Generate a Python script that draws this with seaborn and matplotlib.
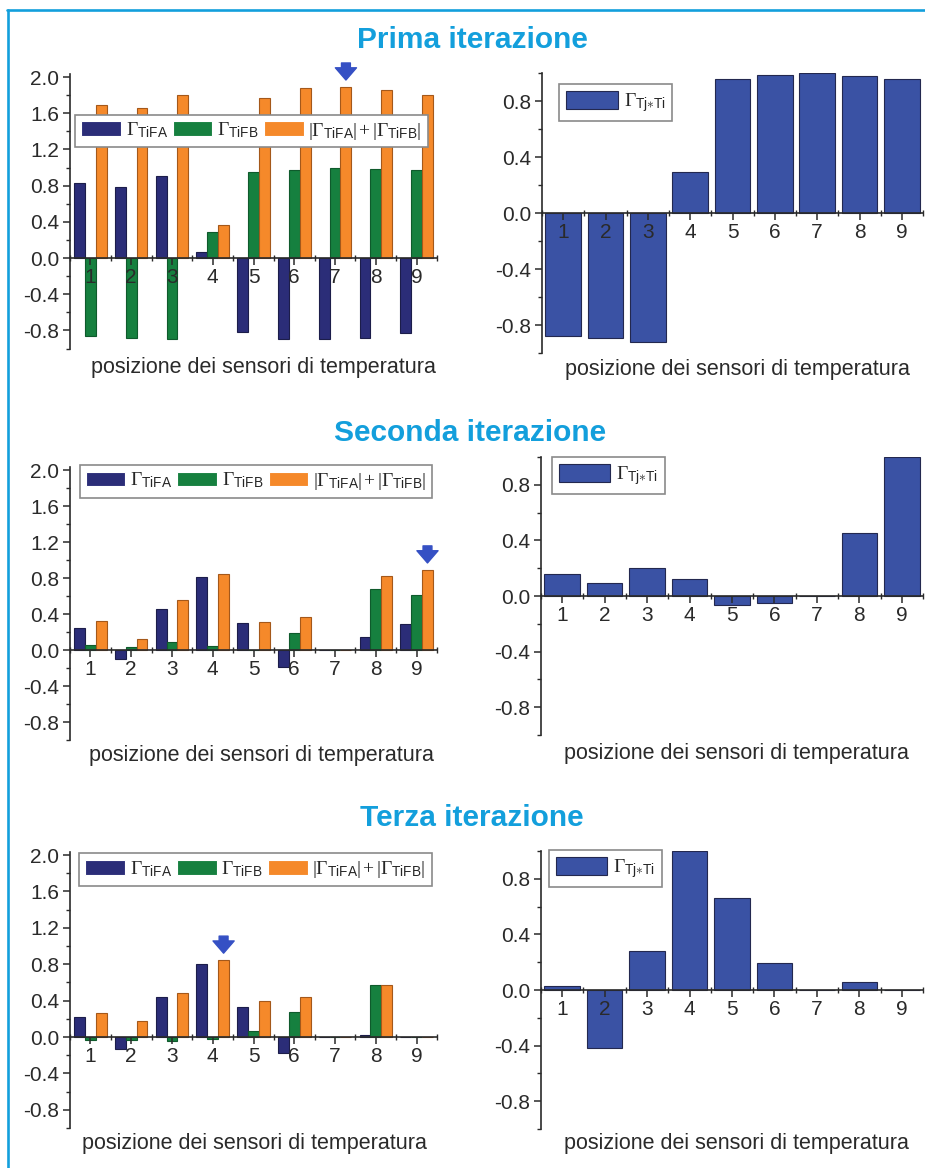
import numpy as np
import pandas as pd
import matplotlib
matplotlib.use("Agg")
import matplotlib.pyplot as plt
from matplotlib.lines import Line2D
from matplotlib.ticker import MultipleLocator, FormatStrFormatter
import seaborn as sns

# ---------------------------------------------------------------- data
sensori = ["1", "2", "3", "4", "5", "6", "7", "8", "9"]

# Prima iterazione
it1_fa = [0.83, 0.78, 0.91, 0.07, -0.82, -0.90, -0.90, -0.88, -0.83]
it1_fb = [-0.86, -0.88, -0.90, 0.29, 0.95, 0.97, 0.99, 0.98, 0.97]
it1_sum = [1.69, 1.66, 1.80, 0.36, 1.77, 1.88, 1.89, 1.86, 1.80]
it1_tt = [-0.88, -0.895, -0.92, 0.29, 0.96, 0.985, 1.00, 0.98, 0.96]

# Seconda iterazione
it2_fa = [0.25, -0.10, 0.46, 0.81, 0.30, -0.185, 0.0, 0.14, 0.29]
it2_fb = [0.06, 0.03, 0.085, 0.05, 0.005, 0.185, 0.0, 0.68, 0.61]
it2_sum = [0.32, 0.12, 0.555, 0.85, 0.31, 0.37, 0.0, 0.82, 0.89]
it2_tt = [0.155, 0.095, 0.205, 0.12, -0.062, -0.048, 0.0, 0.455, 1.00]

# Terza iterazione
it3_fa = [0.225, -0.13, 0.44, 0.805, 0.335, -0.175, 0.0, 0.02, 0.0]
it3_fb = [-0.035, -0.035, -0.04, -0.02, 0.07, 0.28, 0.0, 0.575, 0.0]
it3_sum = [0.26, 0.18, 0.485, 0.845, 0.395, 0.445, 0.0, 0.575, 0.0]
it3_tt = [0.03, -0.42, 0.28, 1.00, 0.66, 0.195, 0.0, 0.055, 0.0]

titoli = ["Prima iterazione", "Seconda iterazione", "Terza iterazione"]
serie = [r"$\Gamma_{\mathsf{TiFA}}$",
         r"$\Gamma_{\mathsf{TiFB}}$",
         r"$|\Gamma_{\mathsf{TiFA}}|\,{+}\,|\Gamma_{\mathsf{TiFB}}|$"]
etichetta_tt = r"$\Gamma_{\mathsf{Tj}{\ast}\mathsf{Ti}}$"
xlabel = "posizione dei sensori di temperatura"

# ---------------------------------------------------------------- style
sns.set_theme(style="white")
plt.rcParams["font.family"] = ["Liberation Sans", "DejaVu Sans"]
plt.rcParams["axes.unicode_minus"] = False
plt.rcParams["mathtext.fontset"] = "custom"
plt.rcParams["mathtext.rm"] = "Liberation Serif"
plt.rcParams["mathtext.it"] = "Liberation Serif:italic"
plt.rcParams["mathtext.sf"] = "Liberation Sans"

W, H = 925, 1168
fig = plt.figure(figsize=(W / 100, H / 100), dpi=100)
fig.patch.set_facecolor("white")

C_FA = "#2b2d78"
C_FB = "#16803f"
C_SUM = "#f5892a"
C_TT = "#3a52a4"
EDGE = ["#1c1d4a", "#0f5a2c", "#a4581a"]
BLUE_T = "#139fdc"
INK = "#2a2a2a"


def px_axes(x0, x1, y0, y1):
    return fig.add_axes([x0 / W, 1 - y1 / H, (x1 - x0) / W, (y1 - y0) / H])


def common_axis(ax, ylim, major_loc):
    ax.set_axisbelow(False)
    ax.set_ylim(*ylim)
    ax.set_xlim(-0.5, 8.5)
    for s in ("top", "right"):
        ax.spines[s].set_visible(False)
    ax.spines["bottom"].set_position(("data", 0))
    for s in ("left", "bottom"):
        ax.spines[s].set_color(INK)
        ax.spines[s].set_linewidth(1.2)
        ax.spines[s].set_zorder(4)
    ax.xaxis.set_zorder(4)
    ax.yaxis.set_zorder(4)
    ax.yaxis.set_major_locator(MultipleLocator(major_loc))
    ax.yaxis.set_minor_locator(MultipleLocator(major_loc / 2))
    ax.yaxis.set_major_formatter(FormatStrFormatter("%.1f"))
    ax.set_xticks(range(9))
    ax.set_xticklabels(sensori)
    ax.set_xticks(np.arange(-0.5, 9, 1.0), minor=True)
    ax.tick_params(axis="both", which="major", direction="out", length=5,
                   width=1.1, color=INK, labelsize=15, labelcolor=INK, pad=3)
    ax.tick_params(axis="both", which="minor", direction="out", length=3,
                   width=1.0, color=INK)
    ax.tick_params(axis="x", which="major", pad=2)
    ax.tick_params(axis="x", which="minor", direction="inout", length=5)
    ax.tick_params(left=True, bottom=True, which="both")
    ax.set_xlabel("")
    ax.set_ylabel("")


def left_panel(ax, fa, fb, sm, leg_center):
    df = pd.DataFrame({
        "sensore": sensori * 3,
        "valore": list(fa) + list(fb) + list(sm),
        "serie": [serie[0]] * 9 + [serie[1]] * 9 + [serie[2]] * 9,
    })
    sns.barplot(data=df, x="sensore", y="valore", hue="serie",
                hue_order=serie, order=sensori,
                palette=[C_FA, C_FB, C_SUM], saturation=1, width=0.8,
                linewidth=0.8, ax=ax, errorbar=None)
    for cont, ec in zip(ax.containers, EDGE):
        for p in cont:
            p.set_edgecolor(ec)
    common_axis(ax, (-1.0, 2.03), 0.4)
    old = ax.get_legend()
    handles = old.legend_handles
    old.remove()
    leg = ax.legend(handles, serie, loc="center", bbox_to_anchor=leg_center,
                    ncol=3, fontsize=14, frameon=True, fancybox=False,
                    framealpha=1, edgecolor="#8a8a8a", handlelength=2.05,
                    handleheight=0.8, handletextpad=0.25, columnspacing=0.25,
                    borderpad=0.3, borderaxespad=0)
    leg.get_frame().set_linewidth(1.2)
    leg.set_zorder(6)
    # arrow over the largest |ΓTiFA| + |ΓTiFB| bar
    k = int(np.argmax(sm))
    xpos = k + 0.8 / 3
    ax.annotate("", xy=(xpos, sm[k]), xycoords="data",
                xytext=(0, 24), textcoords="offset pixels",
                arrowprops=dict(arrowstyle="simple,head_length=0.55,head_width=0.95,tail_width=0.4",
                                color="#3550c4", shrinkA=0, shrinkB=5,
                                mutation_scale=16))


def right_panel(ax, tt, leg_center):
    sns.barplot(x=sensori, y=tt, order=sensori, color=C_TT, saturation=1,
                width=0.84, edgecolor="#23284f", linewidth=0.8, ax=ax,
                label=etichetta_tt, errorbar=None)
    common_axis(ax, (-1.0, 1.0), 0.4)
    leg = ax.legend(loc="center", bbox_to_anchor=leg_center, fontsize=14,
                    frameon=True, fancybox=False, framealpha=1,
                    edgecolor="#8a8a8a", handlelength=2.65, handleheight=1.1,
                    handletextpad=0.3, borderpad=0.35, borderaxespad=0)
    leg.get_frame().set_linewidth(1.2)
    leg.set_zorder(6)


# ---------------------------------------------------------------- layout
left_boxes = [(70, 437, 74.3, 348.5), (70, 437, 467.3, 740), (70, 437, 852.3, 1128)]
right_boxes = [(542, 923, 73, 353), (541, 923, 457, 735), (541, 923, 851, 1129)]
left_leg = [(0.494, 0.793), (0.507, 0.949), (0.505, 0.937)]
right_leg = [(0.194, 0.895), (0.176, 0.933), (0.169, 0.937)]
title_pos = [(472, 40), (470, 433), (472, 818)]
xlabel_pos = [((263, 367), (737, 370)), ((261, 755), (736, 753)), ((254, 1143), (736, 1143))]

dati = [(it1_fa, it1_fb, it1_sum, it1_tt),
        (it2_fa, it2_fb, it2_sum, it2_tt),
        (it3_fa, it3_fb, it3_sum, it3_tt)]

for i, (fa, fb, sm, tt) in enumerate(dati):
    axl = px_axes(*left_boxes[i])
    left_panel(axl, fa, fb, sm, left_leg[i])
    axr = px_axes(*right_boxes[i])
    right_panel(axr, tt, right_leg[i])

    tx, ty = title_pos[i]
    fig.text(tx / W, 1 - ty / H, titoli[i], ha="center", va="center",
             fontsize=21.5, fontweight="bold", color=BLUE_T)
    for (lx, ly) in xlabel_pos[i]:
        fig.text(lx / W, 1 - ly / H, xlabel, ha="center", va="center",
                 fontsize=15.5, color=INK)

# outer frame (top and left rules)
fig.add_artist(Line2D([7 / W, 1.0], [1 - 9.5 / H, 1 - 9.5 / H],
                      transform=fig.transFigure, color=BLUE_T, linewidth=1.9))
fig.add_artist(Line2D([7.5 / W, 7.5 / W], [0.0, 1 - 9.5 / H],
                      transform=fig.transFigure, color=BLUE_T, linewidth=1.9))

fig.savefig("out.png", dpi=100, facecolor="white")
